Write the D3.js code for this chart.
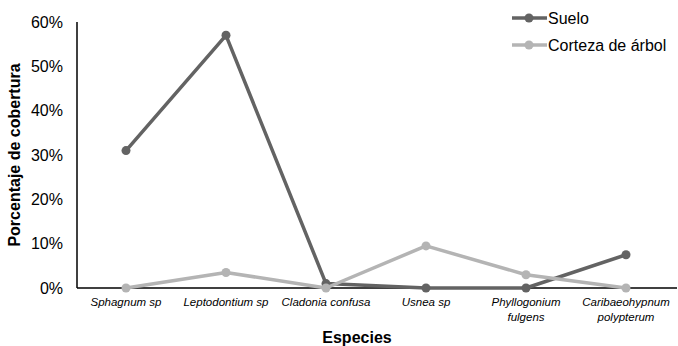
<!DOCTYPE html>
<html><head><meta charset="utf-8">
<script src="https://cdn.jsdelivr.net/npm/d3@7"></script>
<style>body{margin:0;background:#fff}svg{display:block;font-family:"Liberation Sans",Arial,sans-serif}</style>
</head><body><svg id="c" width="678" height="346"></svg>
<script>
const categories = [["Sphagnum sp"],["Leptodontium sp"],["Cladonia confusa"],["Usnea sp"],["Phyllogonium","fulgens"],["Caribaeohypnum","polypterum"]];
const suelo = [0.31, 0.57, 0.01, 0, 0, 0.075];
const corteza = [0, 0.035, 0, 0.095, 0.03, 0];
const yTicks = [0, 0.1, 0.2, 0.3, 0.4, 0.5, 0.6];
const seriesNames = ["Suelo", "Corteza de árbol"];
const colors = ["#636363", "#b4b4b4"];

(function(){
const svg = d3.select("#c");
const mLeft = 77, mRight = 677, mTop = 22, mBottom = 288;
const x = d3.scaleBand().domain(d3.range(categories.length)).range([mLeft, mRight]).paddingOuter(0).paddingInner(0);
const xc = i => x(i) + x.bandwidth()/2 - 1;
const y = d3.scaleLinear().domain([0, 0.6]).range([mBottom, mTop]);

svg.append("g").selectAll("text").data(yTicks).join("text")
  .attr("x", 63).attr("y", d => y(d)).attr("dy", "0.35em")
  .attr("text-anchor", "end").attr("font-size", 16).attr("fill", "#000")
  .text(d => d3.format(".0%")(d));

const xl = svg.append("g").selectAll("text").data(categories).join("text")
  .attr("x", (d,i) => xc(i)).attr("y", 306).attr("text-anchor", "middle")
  .attr("font-size", 11.5).attr("font-style", "italic").attr("fill", "#000");
xl.selectAll("tspan").data(d => d).join("tspan")
  .attr("x", function(){ return this.parentNode.getAttribute("x"); })
  .attr("dy", (d,j) => j === 0 ? 0 : 15).text(d => d);

svg.append("line").attr("x1", mLeft).attr("x2", mLeft).attr("y1", mTop).attr("y2", mBottom).attr("stroke", "#000").attr("stroke-width", 1.5);
svg.append("line").attr("x1", mLeft).attr("x2", mRight).attr("y1", mBottom).attr("y2", mBottom).attr("stroke", "#000").attr("stroke-width", 1.5);

svg.append("text").attr("transform", "translate(20,155) rotate(-90)").attr("text-anchor", "middle")
  .attr("font-size", 16).attr("font-weight", "bold").text("Porcentaje de cobertura");
svg.append("text").attr("x", 357).attr("y", 343).attr("text-anchor", "middle")
  .attr("font-size", 16).attr("font-weight", "bold").text("Especies");

const line = d3.line().x((d,i) => xc(i)).y(d => y(d));
[suelo, corteza].forEach((s, k) => {
  const g = svg.append("g");
  g.append("path").attr("d", line(s)).attr("fill", "none").attr("stroke", colors[k]).attr("stroke-width", 3.5).attr("stroke-linejoin", "round");
  g.selectAll("circle").data(s).join("circle").attr("cx", (d,i) => xc(i)).attr("cy", d => y(d)).attr("r", 4.5).attr("fill", colors[k]);
});

const lg = svg.append("g");
seriesNames.forEach((n, k) => {
  const yy = 18 + k * 27;
  lg.append("line").attr("x1", 512).attr("x2", 547).attr("y1", yy).attr("y2", yy).attr("stroke", colors[k]).attr("stroke-width", 3.5);
  lg.append("circle").attr("cx", 529).attr("cy", yy).attr("r", 4.5).attr("fill", colors[k]);
  lg.append("text").attr("x", 548).attr("y", yy).attr("dy", "0.35em").attr("font-size", 16).text(n);
});
})();
</script></body></html>
